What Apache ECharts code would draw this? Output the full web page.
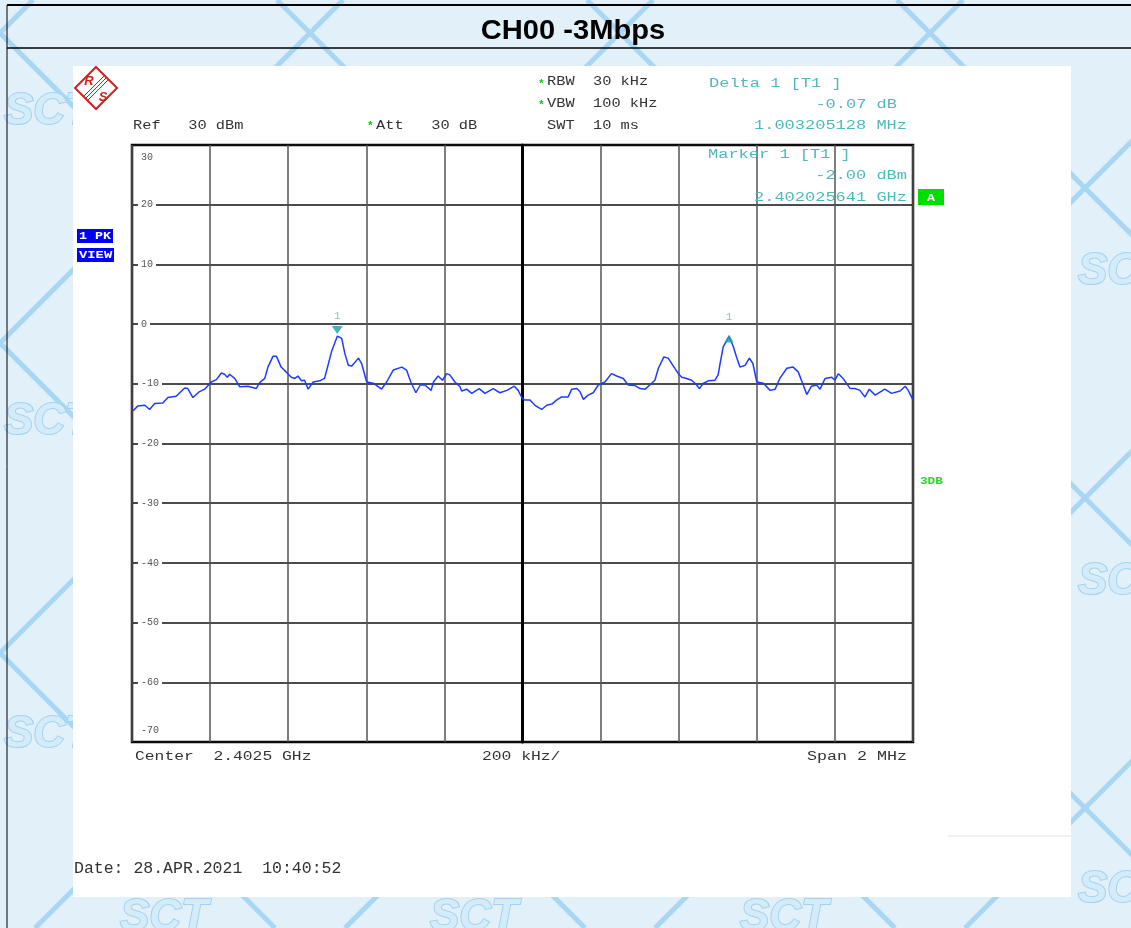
<!DOCTYPE html>
<html>
<head>
<meta charset="utf-8">
<title>CH00 -3Mbps</title>
<script src="https://cdn.jsdelivr.net/npm/echarts@6/dist/echarts.min.js"></script>
<style>
  html, body { margin: 0; padding: 0; background: #e1f0f9; }
  #chart { width: 1131px; height: 928px; }
</style>
</head>
<body>
<div id="chart"></div>
<script>
// frequency offset from center 2.4025 GHz, in kHz (span 2 MHz)
const freqKHz = [
  -997, -985, -967, -955, -942, -921, -908, -887, -865, -857, -844, -827, -814, -797, -784,
  -771, -763, -756, -750, -737, -724, -703, -682, -673, -660, -652, -639, -630, -618, -601,
  -592, -583, -575, -566, -558, -549, -536, -519, -507, -500, -489, -474, -463, -455, -446,
  -437, -420, -412, -399, -382, -361, -348, -331, -309, -297, -286, -273, -262, -250, -234,
  -228, -216, -205, -194, -186, -173, -160, -156, -143, -130, -111, -96, -75, -58, -40,
  -21, -11, -2, 5, 19, 32, 49, 62, 75, 88, 100, 117, 126, 139, 147,
  156, 168, 181, 194, 211, 228, 241, 258, 271, 288, 301, 314, 326, 339, 348,
  362, 373, 386, 399, 408, 420, 433, 442, 453, 463, 476, 493, 501, 506, 514,
  529, 540, 548, 557, 570, 581, 590, 600, 617, 634, 647, 659, 677, 693, 706,
  719, 728, 740, 753, 762, 775, 792, 800, 809, 821, 839, 851, 864, 877, 888,
  903, 928, 945, 967, 980, 988, 999
];
// trace level, dBm
const levelDbm = [
  -14.5, -13.7, -13.6, -14.3, -13.3, -13.2, -12.3, -12.1, -10.7, -10.8, -12.3, -11.3, -10.9, -9.7, -9.3,
  -8.2, -8.4, -8.9, -8.4, -9.1, -10.5, -10.4, -10.8, -9.8, -9.1, -7.2, -5.4, -5.4, -7.2, -8.3,
  -8.9, -9.1, -8.7, -9.5, -9.4, -10.9, -9.7, -9.5, -9.1, -7.4, -4.6, -2.0, -2.4, -4.9, -6.9,
  -7.0, -5.7, -6.6, -9.7, -9.9, -10.9, -9.7, -7.7, -7.2, -7.7, -9.7, -11.5, -10.2, -10.2, -11.1,
  -9.7, -8.7, -9.4, -8.3, -8.5, -9.7, -10.5, -11.2, -10.9, -11.6, -10.8, -11.6, -10.8, -11.5, -11.1,
  -10.4, -11.1, -12.3, -12.7, -12.7, -13.6, -14.3, -13.6, -13.4, -12.7, -12.2, -12.2, -10.9, -10.8, -11.3,
  -12.6, -11.9, -11.5, -10.2, -9.7, -8.3, -8.7, -9.1, -10.2, -10.3, -10.8, -10.9, -10.2, -9.4, -7.4,
  -5.5, -5.7, -7.0, -8.3, -8.9, -9.1, -9.4, -9.9, -10.8, -9.9, -9.5, -9.4, -8.5, -6.6, -3.8,
  -2.07, -3.8, -5.5, -7.2, -6.9, -5.7, -6.6, -9.7, -9.9, -11.1, -10.9, -9.1, -7.4, -7.2, -8.0,
  -10.2, -11.8, -10.4, -10.2, -10.9, -9.1, -8.9, -9.4, -8.3, -9.1, -10.8, -10.8, -11.1, -12.2, -10.9,
  -11.9, -10.9, -11.6, -11.2, -10.4, -11.1, -12.6
];
const xMin = -1000, xMax = 1000, xStep = 200;   // 200 kHz/div
const yMin = -70, yMax = 30, yStep = 10;        // Ref 30 dBm, 10 dB/div
const marker1 = [-474.359, -2.00];              // 2.402025641 GHz
const delta1 = [528.846, -2.07];                // +1.003205128 MHz, -0.07 dB

const MONO = '"Liberation Mono", "DejaVu Sans Mono", monospace';

// monospace text spread out to the analyzer's wide character pitch
function txt(x, y, s, o) {
  o = o || {};
  const fs = o.fs || 12;
  const pitch = o.pitch || 9.2;
  return {
    type: 'text', x: x, y: y, z: 10, silent: true,
    scaleX: pitch / (0.6 * fs),
    style: {
      text: s, fill: o.color || '#333',
      font: (o.bold ? 'bold ' : '') + fs + 'px ' + MONO,
      textAlign: o.align || 'left', textVerticalAlign: 'middle'
    }
  };
}
function box(x, y, w, h, fill) {
  return { type: 'rect', z: 9, silent: true, shape: { x: x, y: y, width: w, height: h }, style: { fill: fill } };
}
function seg(x1, y1, x2, y2, color, w, z) {
  return { type: 'line', z: z, silent: true, shape: { x1: x1, y1: y1, x2: x2, y2: y2 }, style: { stroke: color, lineWidth: w } };
}

// background watermark lattice
const deco = [];
for (let m = -3; m <= 7; m++) {
  deco.push(seg(310 * m - 33, 0, 310 * m + 895, 928, '#a9d6f3', 5, -20));
  deco.push(seg(310 * m + 33, 0, 310 * m - 895, 928, '#a9d6f3', 5, -20));
}
[[4, 112], [4, 422], [4, 735], [1078, 272], [1078, 582], [1078, 890], [120, 918], [430, 918], [740, 918]].forEach(p => {
  deco.push({
    type: 'text', x: p[0], y: p[1], z: -15, silent: true,
    style: { text: 'SCT', fill: '#d4ecfa', stroke: '#a3d2f1', lineWidth: 2,
      font: 'italic bold 44px "Liberation Sans", Arial', textVerticalAlign: 'middle' }
  });
});

const gfx = deco.concat([
  { type: 'rect', z: -10, silent: true, shape: { x: 73, y: 66, width: 998, height: 831 }, style: { fill: '#fff' } },
  seg(948, 836, 1071, 836, '#e4e4e4', 1, -9),
  seg(7, 5, 1131, 5, '#000', 2, 5),
  seg(7, 48, 1131, 48, '#000', 1.5, 5),
  seg(7, 5, 7, 928, '#000', 1, 5),
  {
    type: 'text', x: 573, y: 31, z: 10, silent: true, scaleX: 1.04,
    style: { text: 'CH00 -3Mbps', fill: '#000', font: 'bold 28px "Liberation Sans", Arial',
      textAlign: 'center', textVerticalAlign: 'middle' }
  },
  // R&S logo
  { type: 'polygon', z: 9, silent: true, shape: { points: [[96, 67], [117, 88], [96, 109], [75, 88]] },
    style: { fill: '#fff', stroke: '#cc2222', lineWidth: 2 } },
  seg(104.5, 75.5, 83.5, 96.5, '#cc2222', 1, 10),
  seg(106.5, 77.5, 85.5, 98.5, '#cc2222', 1, 10),
  seg(108.5, 79.5, 87.5, 100.5, '#cc2222', 1, 10),
  { type: 'text', x: 89, y: 81, z: 10, silent: true,
    style: { text: 'R', fill: '#cc2222', font: 'italic bold 13px "Liberation Sans", Arial', textAlign: 'center', textVerticalAlign: 'middle' } },
  { type: 'text', x: 103, y: 97, z: 10, silent: true,
    style: { text: 'S', fill: '#cc2222', font: 'italic bold 13px "Liberation Sans", Arial', textAlign: 'center', textVerticalAlign: 'middle' } },
  // settings
  txt(367, 126, '*', { color: '#00cc00', bold: true, fs: 11, pitch: 6.6 }),
  txt(538, 84, '*', { color: '#00cc00', bold: true, fs: 11, pitch: 6.6 }),
  txt(538, 105, '*', { color: '#00cc00', bold: true, fs: 11, pitch: 6.6 }),
  txt(133, 126, 'Ref   30 dBm'),
  txt(376, 126, 'Att   30 dB'),
  txt(547, 82, 'RBW  30 kHz'),
  txt(547, 104, 'VBW  100 kHz'),
  txt(547, 126, 'SWT  10 ms'),
  // marker readouts
  txt(709, 84, 'Delta 1 [T1 ]', { color: '#4cb9bd', pitch: 10.2 }),
  txt(897, 105, '-0.07 dB', { color: '#4cb9bd', pitch: 10.2, align: 'right' }),
  txt(907, 126, '1.003205128 MHz', { color: '#4cb9bd', pitch: 10.2, align: 'right' }),
  txt(708, 155, 'Marker 1 [T1 ]', { color: '#4cb9bd', pitch: 10.2 }),
  txt(907, 176, '-2.00 dBm', { color: '#4cb9bd', pitch: 10.2, align: 'right' }),
  txt(907, 198, '2.402025641 GHz', { color: '#4cb9bd', pitch: 10.2, align: 'right' }),
  // side flags
  box(918, 189, 26, 16, '#00dd00'),
  txt(927, 198, 'A', { color: '#fff', bold: true, fs: 11, pitch: 8 }),
  txt(920, 481, '3DB', { color: '#22dd22', bold: true, fs: 10, pitch: 7.6 }),
  box(77, 229, 36, 14, '#0000ff'),
  txt(79, 236, '1 PK', { color: '#fff', bold: true, fs: 10, pitch: 8 }),
  box(77, 248, 37, 14, '#0000ff'),
  txt(79, 255, 'VIEW', { color: '#fff', bold: true, fs: 10, pitch: 8.3 }),
  // x scale info
  txt(135, 757, 'Center  2.4025 GHz', { pitch: 9.8 }),
  txt(482, 757, '200 kHz/', { pitch: 9.8 }),
  txt(907, 757, 'Span 2 MHz', { pitch: 10, align: 'right' }),
  txt(74, 869, 'Date: 28.APR.2021  10:40:52', { fs: 16, pitch: 9.9 })
]);

const labelFont = { fontFamily: MONO, fontSize: 10, color: '#555' };

const chart = echarts.init(document.getElementById('chart'));
chart.setOption({
  backgroundColor: '#e1f0f9',
  animation: false,
  grid: { left: 132, top: 145, width: 781, height: 597, show: true, borderColor: '#000', borderWidth: 2.5, backgroundColor: '#fff' },
  xAxis: {
    type: 'value', min: xMin, max: xMax, interval: xStep,
    axisLabel: { show: false }, axisTick: { show: false }, axisLine: { show: false },
    splitLine: { show: true, lineStyle: { color: '#555', width: 1.5 } }
  },
  yAxis: {
    type: 'value', min: yMin, max: yMax, interval: yStep,
    axisLine: { show: true, lineStyle: { color: '#000', width: 3 } },
    axisTick: { show: false },
    axisLabel: {
      inside: true, margin: 6, color: '#555', fontFamily: MONO, fontSize: 10,
      verticalAlignMaxLabel: 'top', verticalAlignMinLabel: 'bottom',
      // end labels sit inside the frame, the rest break the grid line
      formatter: v => (v === yMax || v === yMin) ? '{e|' + v + '}' : '{n|' + v + '}',
      rich: {
        n: Object.assign({ backgroundColor: '#fff', padding: [0, 3] }, labelFont),
        e: Object.assign({ padding: [7, 3] }, labelFont)
      }
    },
    splitLine: { lineStyle: { color: '#111', width: 1.5 } }
  },
  series: [
    {
      type: 'line', data: [], z: 1, silent: true,
      markLine: { silent: true, symbol: 'none', label: { show: false }, lineStyle: { color: '#000', width: 2, type: 'solid' }, data: [{ xAxis: 0 }] }
    },
    {
      type: 'line', data: freqKHz.map((f, i) => [f, levelDbm[i]]), showSymbol: false, z: 5,
      lineStyle: { color: '#1e3cff', width: 1.5 }
    },
    {
      type: 'scatter', data: [marker1], symbol: 'triangle', symbolRotate: 180, symbolSize: [11, 8], symbolOffset: [0, -6], z: 6,
      itemStyle: { color: '#16a0a0' },
      label: { show: true, formatter: '1', position: 'top', distance: 4, color: '#5cbcbc', fontFamily: MONO, fontSize: 11 }
    },
    {
      type: 'scatter', data: [delta1], symbol: 'triangle', symbolSize: [9, 8], symbolOffset: [0, 2], z: 6,
      itemStyle: { color: '#16a0a0' },
      label: { show: true, formatter: '1', position: 'top', distance: 12, color: '#5cbcbc', fontFamily: MONO, fontSize: 11 }
    }
  ],
  graphic: { elements: gfx }
});
</script>
</body>
</html>
